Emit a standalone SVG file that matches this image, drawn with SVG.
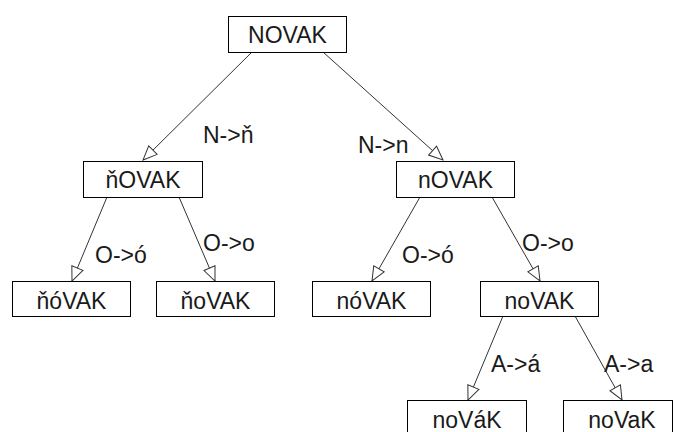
<svg xmlns="http://www.w3.org/2000/svg" width="673" height="432" viewBox="0 0 673 432">
<style>
  .box { fill: #ffffff; stroke: #000000; stroke-width: 1; }
  .t { font-family: "Liberation Sans", Arial, sans-serif; font-size: 23px; fill: #1a1a1a; }
  .c { text-anchor: middle; }
  .edge { stroke: #333333; stroke-width: 1; fill: none; marker-end: url(#arr); }
</style>
<defs>
  <marker id="arr" markerUnits="userSpaceOnUse" markerWidth="16" markerHeight="14" refX="15" refY="7" orient="auto" viewBox="0 0 16 14">
    <path d="M1,1 L15,7 L1,13 Z" fill="#ffffff" stroke="#333333" stroke-width="1"/>
  </marker>
</defs>
<rect width="673" height="432" fill="#ffffff"/>
<g id="connectors">
  <line class="edge" x1="252" y1="52" x2="143" y2="160"/>
  <line class="edge" x1="323" y1="52" x2="443" y2="160"/>
  <line class="edge" x1="107" y1="197" x2="72" y2="281"/>
  <line class="edge" x1="179" y1="197" x2="215" y2="281"/>
  <line class="edge" x1="420" y1="197" x2="372" y2="281"/>
  <line class="edge" x1="492" y1="197" x2="540" y2="281"/>
  <line class="edge" x1="503" y1="316" x2="468" y2="400"/>
  <line class="edge" x1="575" y1="316" x2="622" y2="400"/>
  <text class="t" x="203" y="143">N-&gt;ň</text>
  <text class="t" x="358" y="153">N-&gt;n</text>
  <text class="t" x="95" y="263">O-&gt;ó</text>
  <text class="t" x="203" y="251">O-&gt;o</text>
  <text class="t" x="402" y="263">O-&gt;ó</text>
  <text class="t" x="522" y="251">O-&gt;o</text>
  <text class="t" x="491" y="372">A-&gt;á</text>
  <text class="t" x="604" y="372">A-&gt;a</text>
</g>
<g id="n_NOVAK">
  <rect class="box" x="228.5" y="16.5" width="118" height="36"/>
  <text class="t c" x="287.5" y="43">NOVAK</text>
</g>
<g id="n_hOVAK">
  <rect class="box" x="83.5" y="161.5" width="119" height="36"/>
  <text class="t c" x="143" y="188">ňOVAK</text>
</g>
<g id="n_nOVAK">
  <rect class="box" x="396.5" y="161.5" width="118" height="36"/>
  <text class="t c" x="455.5" y="188">nOVAK</text>
</g>
<g id="n_hoVAK1">
  <rect class="box" x="12.5" y="281.5" width="118" height="35"/>
  <text class="t c" x="71.5" y="309">ňóVAK</text>
</g>
<g id="n_hoVAK2">
  <rect class="box" x="156.5" y="281.5" width="118" height="35"/>
  <text class="t c" x="215.5" y="309">ňoVAK</text>
</g>
<g id="n_noVAK1">
  <rect class="box" x="312.5" y="281.5" width="118" height="35"/>
  <text class="t c" x="371.5" y="309">nóVAK</text>
</g>
<g id="n_noVAK2">
  <rect class="box" x="480.5" y="281.5" width="118" height="35"/>
  <text class="t c" x="539.5" y="309">noVAK</text>
</g>
<g id="n_noVaK1">
  <rect class="box" x="407.5" y="400.5" width="119" height="35"/>
  <text class="t c" x="467" y="428">noVáK</text>
</g>
<g id="n_noVaK2">
  <rect class="box" x="563.5" y="400.5" width="109" height="35"/>
  <text class="t c" x="622" y="428">noVaK</text>
</g>
</svg>
